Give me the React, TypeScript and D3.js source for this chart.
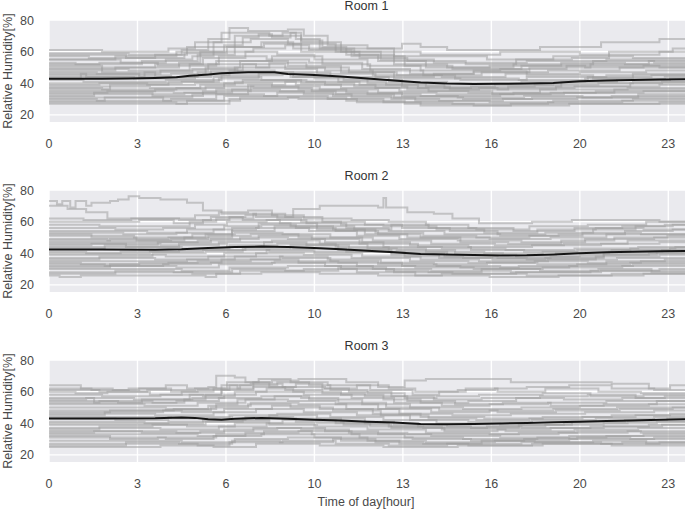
import React from 'react';
import * as d3 from 'd3';

// hours at which the x ticks sit (every 40 samples of 5 min) and their labels
const tickHours = [0, 10 / 3, 20 / 3, 10, 40 / 3, 50 / 3, 20, 70 / 3];
const tickLabels = ['0', '3', '6', '10', '13', '16', '20', '23'];
const yTicks = [20, 40, 60, 80];
const roomNames = ['Room 1', 'Room 2', 'Room 3'];

// each series: [hour, RH] change points, held until the next one (step-after)
const room1Series = [
  [[0,61],[2,60],[4.5,62],[5.5,66],[6.5,72],[8.3,70],[9.5,66],[11,60],[14,58],[17,60],[20,58],[23,60]],
  [[0,59],[3,58],[5,61],[6,68],[6.8,75],[7.5,73],[9,74],[9.6,70],[10.5,64],[12,62],[13.3,65],[14,63],[15,61],[18.5,63],[20.8,66],[23,68]],
  [[0,57],[1.5,56],[4,58],[5.2,63],[7,70],[8.8,72],[9.3,68],[10.2,62],[13,57],[16.5,55],[19,57],[22,56]],
  [[0,55],[2.5,57],[4.8,60],[6.2,66],[7.6,68],[9,65],[10.8,60],[12.5,55],[14.5,53],[18,54],[21,55]],
  [[0,53],[1,52],[3.5,54],[5.6,58],[7,63],[8,66],[9.2,62],[11.5,58],[13,52],[15,50],[17.5,52],[20.5,54],[22.8,53]],
  [[0,51],[2,50],[4,52],[5.8,56],[7.4,60],[8.6,58],[10,55],[12,51],[14,48],[17,49],[19.5,51],[23,50]],
  [[0,49],[3,48],[5.3,52],[6.4,57],[8.2,55],[9.8,53],[11.8,49],[13.6,46],[16,47],[18.8,48],[21.5,50]],
  [[0,47],[1.8,46],[4.2,48],[6,52],[7.8,50],[10.4,48],[12.2,45],[14.8,44],[17.2,46],[20,47],[22.5,48]],
  [[0,45],[2.2,45],[4.6,46],[5.9,50],[7.2,54],[9,51],[11,47],[13,43],[15.5,42],[18,44],[21,45]],
  [[0,44],[3.2,43],[5.5,45],[6.8,48],[8.5,47],[10.6,44],[12.8,41],[15,40],[17.8,41],[20.2,43],[23.2,44]],
  [[0,42],[1.3,41],[4.4,42],[6.5,45],[8.8,46],[10,43],[12,40],[14.2,38],[16.8,39],[19,40],[22,41]],
  [[0,40],[2.6,40],[5,41],[6.2,44],[8,42],[9.5,40],[11.5,38],[13.5,36],[16.2,37],[19.8,38],[23,39]],
  [[0,38],[3.8,37],[5.7,39],[7,41],[9.3,39],[11,37],[13.2,35],[15.8,34],[18.5,36],[21.8,37]],
  [[0,37],[2,36],[4.8,37],[6.6,40],[8.4,38],[10.2,36],[12.4,34],[14.6,33],[17.5,34],[20.6,35]],
  [[0,35],[1.5,35],[4,36],[5.9,38],[7.7,37],[9.9,35],[12,33],[14,32],[17,33],[19.4,34],[22.4,35]],
  [[0,33],[2.8,33],[5.1,34],[6.9,36],[8.7,35],[10.8,33],[13,31],[15.6,30],[18.2,31],[21.2,32]],
  [[0,31],[3.5,31],[5.4,33],[7.5,35],[9.6,33],[11.4,31],[13.8,29],[16.6,28],[19,29],[22,30]],
  [[0,30],[1.8,29],[4.6,30],[6.3,33],[8.1,32],[10.5,30],[12.6,28],[15.2,27],[18.8,28],[21.6,29]],
  [[0,28],[2.4,28],[4.8,27],[6.8,30],[9,31],[11.2,29],[13.4,27],[16,26],[19.6,27],[23,28]],
  [[0,27],[3,27],[5.2,29],[7.2,31],[9.4,30],[11.6,28],[14,26],[17.4,27],[20.8,27]],
  [[0,50],[2,47],[4,44],[6.1,48],[7.3,52],[8.9,49],[10.1,46],[12.3,44],[14.5,46],[16,48],[18,45],[20.5,43],[22,46]],
  [[0,43],[1.2,46],[3.4,44],[5.6,47],[7,50],[8.3,53],[9.7,50],[11.3,47],[13.1,45],[15.3,43],[17.7,42],[20.3,44],[22.7,45]],
  [[0,36],[2.3,39],[4.5,41],[6.4,43],[7.9,46],[9.1,44],[10.9,41],[12.7,39],[14.9,37],[16.9,36],[19.1,38],[21.9,40]],
  [[0,32],[1.7,34],[3.9,32],[5.8,35],[7.6,38],[9.4,36],[11.2,34],[13.3,32],[15.4,31],[17.9,32],[20.1,31],[22.2,33]],
  [[0,55],[2.7,53],[4.1,51],[6.3,54],[8.4,57],[10.3,52],[12.1,48],[14.1,45],[16.3,47],[18.1,50],[20.4,52],[22.6,54]],
  [[0,46],[1.4,44],[3.6,47],[5.4,49],[7.1,47],[9.2,44],[11.1,42],[13.3,38],[15.1,36],[17.3,38],[19.3,41],[21.4,42],[23.4,43]],
  [[0,29],[2.1,31],[4.3,29],[6.6,32],[8.6,34],[10.7,32],[12.9,30],[14.7,29],[17.1,30],[19.9,31],[22.8,31]],
  [[0,58],[2.9,56],[5.1,59],[6.7,63],[8.1,65],[9.5,60],[11.7,56],[13.5,54],[15.7,52],[17.6,55],[19.7,56],[21.1,60],[23.5,62]],
  [[0,48],[2.5,50],[4.9,53],[5.7,60],[6.6,64],[7.3,69],[7.9,71],[8.4,69],[9.1,72],[9.5,67],[10.3,63],[11.2,58],[12.4,54],[14.2,50],[16.6,51],[19.3,53],[21.7,52]],
  [[0,52],[1.9,53],[4.4,55],[5.4,57],[6.2,60],[7.7,62],[8.9,64],[9.8,61],[11.4,57],[13.4,51],[15.2,49],[17.8,51],[20.2,50],[22.4,51]],
  [[0,34],[2.2,35],[4.7,34],[6.3,36],[7.5,39],[8.9,41],[10.4,39],[12.3,37],[14.3,35],[16.7,33],[18.9,34],[21.3,36]],
  [[0,39],[1.9,40],[3.7,39],[5.5,40],[7.3,42],[9.7,41],[11.7,39],[13.9,37],[15.9,38],[18.3,39],[20.7,40],[23.1,41]],
];

const room2Series = [
  [[0,73],[0.3,71],[0.5,73],[0.8,69],[1,73],[1.4,70],[1.6,72],[2.3,73],[2.6,74],[3,76],[3.4,75],[4.2,74],[5.2,72],[5.8,67],[6.5,65],[7.8,63],[9.2,68],[10.2,70],[12.4,69],[12.6,75],[12.7,69],[13.5,66],[14.5,65],[15.2,62],[16.2,59],[18.2,60],[19.7,61],[23,60]],
  [[0,70],[0.7,68],[1.4,66],[2.2,62],[4,62],[5.5,64],[6.4,66],[7.5,67],[8.4,64],[9.6,62],[11.4,61],[12.8,60],[14.2,58],[15.8,56],[17.5,54],[19.8,56],[21.6,57],[23.2,58]],
  [[0,60],[1.5,60],[3.4,61],[4.7,59],[5.8,61],[6.8,63],[7.4,64],[8.6,62],[9.5,60],[11,58],[12.6,57],[14.6,55],[16.4,53],[18.4,55],[20.6,56],[22.4,55]],
  [[0,56],[2.5,55],[4.3,56],[5.5,58],[6.7,60],[8.2,61],[9.7,59],[11.2,56],[12.8,54],[14.9,52],[17,51],[19.2,52],[21.7,54],[23.5,55]],
  [[0,54],[1.8,54],[3.7,53],[5.2,55],[6.6,57],[8,58],[9.3,56],[10.8,54],[12.4,52],[14,50],[16.6,49],[18.9,50],[21,52]],
  [[0,53],[2.8,52],[4.8,53],[6.2,55],[7.8,56],[9.8,54],[11.6,51],[13.2,49],[15.4,48],[17.8,47],[20.2,49],[22.8,50]],
  [[0,51],[1.2,51],[3.2,50],[5.4,52],[7,53],[8.8,52],[10.6,50],[12.2,48],[14.4,46],[16.8,45],[19.4,46],[21.8,48]],
  [[0,49],[2.2,48],[4.6,49],[6,51],[7.6,52],[9.4,50],[11.8,47],[13.6,45],[15.8,44],[18.2,45],[20.8,46],[23,47]],
  [[0,47],[3.6,47],[5.6,48],[7.2,50],[9,49],[10.4,47],[12.6,44],[14.8,43],[17.2,42],[19.8,43],[22.2,44]],
  [[0,45],[1.6,46],[4.2,45],[6.4,47],[8.4,48],[10.2,46],[12,43],[14.2,41],[16.4,40],[18.6,41],[21.2,42],[23.4,43]],
  [[0,44],[2.6,44],[5,43],[6.8,45],[8.6,46],[10.8,44],[12.8,41],[15,39],[17.6,38],[20,39],[22.6,40]],
  [[0,41],[1.4,40],[3.8,41],[5.8,42],[7.4,44],[9.2,43],[11.2,41],[13.4,38],[15.6,37],[18,36],[20.6,38],[23,39]],
  [[0,39],[2.4,39],[4.4,38],[6.6,40],[8.2,42],[10,40],[11.8,38],[14,36],[16.2,35],[18.8,36],[21.4,37]],
  [[0,37],[1.8,37],[4,36],[6,38],[7.8,40],[9.6,39],[11.4,37],[13.6,35],[15.8,34],[18.4,33],[21,35],[23.2,36]],
  [[0,35],[3,35],[5.2,36],[7,38],[8.8,37],[10.6,35],[12.4,33],[14.6,32],[17,31],[19.6,32],[22,33]],
  [[0,34],[1.2,33],[3.4,34],[5.6,35],[7.6,36],[9.4,34],[11.6,32],[13.8,31],[16,30],[18.6,31],[21.6,32]],
  [[0,32],[2,32],[4.8,31],[6.4,33],[8.4,34],[10.4,32],[12.2,30],[14.4,29],[17.4,28],[20.4,29],[23,30]],
  [[0,30],[2.8,30],[5,29],[6.8,31],[9,32],[11,30],[13,28],[15.2,27],[18,26],[21.2,27]],
  [[0,28],[3.4,28],[5.4,27],[7.2,29],[9.6,30],[11.6,28],[13.8,26],[16.6,25],[19.2,26],[22.4,27]],
  [[0,26],[0.4,25],[1.2,26],[4.2,26],[5.9,25],[6.3,27],[8,28],[10.2,27],[12.4,26],[14.8,27],[17.6,28],[20.8,29]],
  [[0,52],[1.6,50],[3.3,48],[5.1,50],[6.9,54],[8.5,57],[10.1,55],[11.9,52],[13.5,50],[15.5,47],[17.3,46],[19.3,48],[21.3,50],[23.3,51]],
  [[0,43],[2.1,45],[4.1,47],[6.1,49],[7.9,51],[9.9,49],[11.7,46],[13.9,44],[15.9,42],[17.9,41],[19.9,42],[21.9,43],[23.6,44]],
  [[0,36],[1.9,38],[3.9,40],[5.9,41],[7.3,43],[9.1,45],[10.9,42],[12.9,40],[14.9,38],[16.9,37],[18.9,38],[20.9,40],[22.9,41]],
  [[0,31],[2.3,33],[4.5,34],[6.5,36],[8.7,38],[10.5,36],[12.5,34],[14.5,33],[16.5,34],[18.3,35],[20.3,34],[22.3,35]],
  [[0,58],[1.9,57],[3.9,57],[5.3,60],[6.3,62],[7.7,65],[8.9,63],[10.3,60],[11.9,58],[13.3,56],[15.1,54],[16.9,52],[18.7,53],[20.5,55],[22.1,57],[23.5,58]],
  [[0,46],[2.9,44],[4.9,46],[6.7,44],[8.1,47],[9.7,45],[11.3,43],[13.1,42],[15.3,40],[17.1,39],[19.1,40],[21.1,41],[23.1,42]],
  [[0,27],[2.5,29],[4.7,28],[6.9,30],[8.9,29],[10.9,31],[12.7,29],[14.3,28],[16.3,30],[18.5,29],[20.7,30],[22.7,28]],
  [[0,48],[2.3,49],[4.5,50],[5.9,52],[6.9,56],[7.9,59],[9.1,57],[10.7,55],[12.3,53],[14.1,51],[16.1,50],[18.1,51],[20.1,53],[22.3,52]],
  [[0,40],[2.7,41],[4.9,42],[6.7,42],[8.3,41],[10.5,41],[12.9,39],[14.7,37],[16.7,36],[18.7,37],[20.9,39],[22.9,40]],
  [[0,33],[2.1,32],[4.3,33],[6.1,34],[8.5,35],[10.9,34],[13.3,32],[15.5,31],[17.7,32],[19.9,33],[21.9,34]],
  [[0,62],[1.3,61],[3.1,62],[4.9,61],[6.1,63],[7.3,61],[8.7,59],[10.1,57],[11.5,55],[12.9,58],[14.3,56],[16.1,55],[18.1,57],[20.3,58],[22.5,60]],
];

const room3Series = [
  [[0,64],[1.2,62],[2.4,61],[3.4,62],[4.4,64],[5.2,62],[6,63],[6.3,70],[7,69],[7.4,66],[8.4,67],[9.4,68],[11.2,66],[12.4,63],[13.4,67],[14.2,68],[17.4,66],[21.2,65],[22.6,62],[23.4,64]],
  [[0,62],[1.6,61],[3,62],[4.6,60],[5.6,61],[6.8,64],[7.6,65],[8.8,63],[10.4,62],[11.6,64],[12.8,62],[13.8,60],[15.4,61],[16.8,62],[18,63],[19.6,64],[21.2,62],[22.8,61]],
  [[0,60],[1,59],[2.2,60],[3.8,58],[5,60],[6.2,62],[7.2,64],[8.6,66],[9.8,64],[10.6,61],[12,59],[13.4,56],[14.6,57],[16.2,58],[18.6,59],[20.4,57],[22.4,58]],
  [[0,58],[2,57],[4.2,58],[5.8,57],[7,60],[8.2,62],[9.2,60],[11,58],[12.6,55],[14,53],[15.8,54],[17.6,56],[19.4,55],[21.6,56],[23.2,57]],
  [[0,55],[1.4,56],[3.2,55],[5.4,56],[6.6,58],[7.8,60],[9.6,58],[11.4,56],[13,53],[14.8,51],[16.6,52],[18.8,53],[21,54]],
  [[0,54],[2.6,53],[4.8,54],[6.4,56],[8,57],[9.8,55],[11.8,52],[13.6,50],[15.6,49],[17.8,50],[20,51],[22.6,52]],
  [[0,52],[1.8,52],[3.6,51],[5.6,53],[7.4,55],[9,54],[10.8,52],[12.4,49],[14.4,47],[16.6,48],[19,49],[21.4,50]],
  [[0,50],[2.4,50],[4.4,49],[6,51],[7.6,53],[9.4,52],[11.2,49],[13.2,46],[15.2,45],[17.4,46],[20.2,47],[22.8,48]],
  [[0,48],[3,48],[5,47],[6.6,49],[8.4,51],[10.2,49],[12.2,46],[14,44],[16.4,43],[18.6,44],[21.2,45],[23.4,46]],
  [[0,46],[1.6,46],[4,45],[6.2,47],[7.8,49],[9.6,47],[11.6,45],[13.6,42],[15.8,41],[18.2,42],[20.6,43],[22.8,44]],
  [[0,44],[2.2,44],[4.6,43],[6.8,45],[8.6,46],[10.6,44],[12.6,42],[14.6,40],[17,39],[19.4,40],[21.8,41]],
  [[0,41],[1.2,41],[3.6,40],[5.8,42],[7.4,44],[9.2,43],[11,41],[13,39],[15,38],[17.8,37],[20.4,38],[22.6,39]],
  [[0,39],[2.8,39],[5.2,38],[7,40],[8.8,42],[10.8,40],[12.8,38],[14.8,36],[17.2,35],[19.8,36],[22.2,37]],
  [[0,37],[1.6,37],[4.2,36],[6.4,38],[8.2,40],[10,38],[12,36],[14.2,34],[16.6,33],[19.2,34],[21.8,35]],
  [[0,35],[2.4,35],[4.8,34],[6.6,36],[8.6,37],[10.4,35],[12.4,33],[14.4,32],[17,31],[19.6,32],[22.4,33]],
  [[0,33],[3.2,33],[5.6,32],[7.4,34],[9.4,35],[11.4,33],[13.4,31],[15.6,30],[18.4,31],[21,32]],
  [[0,31],[1.8,31],[4.4,30],[6.2,32],[8,33],[10,31],[12,29],[14.2,28],[16.8,29],[19.6,30],[22.8,31]],
  [[0,29],[2.6,29],[5,28],[7,30],[9,31],[11,29],[13.2,27],[15.8,26],[18.6,27],[21.6,28]],
  [[0,27],[3.6,27],[5.6,26],[6.8,28],[8.8,29],[10.8,27],[12.8,26],[15,27],[17.8,28],[20.8,27],[23,28]],
  [[0,25],[2,25],[4.2,26],[6.2,25],[7.8,27],[10.2,26],[12.6,25],[15.4,26],[18.2,27],[21.2,26]],
  [[0,56],[1.7,53],[3.5,55],[5.3,58],[6.5,61],[7.7,63],[8.9,61],[10.3,59],[11.9,57],[13.5,54],[15.3,52],[17.1,53],[18.9,51],[20.9,52],[22.9,54]],
  [[0,45],[2.1,47],[4.3,48],[6.1,50],[7.5,52],[9.1,50],[10.7,48],[12.5,45],[14.3,43],[16.1,42],[18.1,43],[20.1,44],[22.1,45]],
  [[0,36],[1.9,38],[3.9,39],[5.9,41],[7.3,43],[9.3,41],[11.1,39],[12.9,37],[14.9,35],[16.9,36],[18.9,37],[20.9,38],[23.1,39]],
  [[0,32],[2.3,30],[4.1,31],[6.3,33],[8.1,35],[9.9,33],[11.7,31],[13.7,30],[15.9,29],[17.9,30],[19.9,31],[21.9,30]],
  [[0,61],[1.9,60],[3.7,61],[5.5,62],[6.7,66],[7.9,68],[9.1,66],[10.5,64],[12.1,61],[13.7,58],[14.7,60],[15.7,62],[16.9,60],[18.7,62],[20.7,60],[22.3,59]],
  [[0,43],[2.5,42],[4.5,44],[6.9,42],[8.3,45],[10.1,43],[11.9,40],[13.9,38],[15.9,37],[17.7,39],[19.7,41],[21.7,42],[23.3,43]],
  [[0,26],[2.9,28],[4.9,27],[6.9,29],[8.7,28],[10.7,30],[12.3,28],[14.1,27],[16.3,29],[18.3,28],[20.5,29],[22.5,27]],
  [[0,53],[1.9,54],[3.9,53],[5.1,55],[5.9,58],[6.5,64],[7.1,62],[7.7,66],[8.3,63],[9.3,65],[10.3,62],[11.3,60],[12.9,57],[14.5,55],[16.3,56],[18.5,57],[20.3,58],[22.1,56]],
  [[0,47],[2.3,48],[4.7,49],[6.3,52],[7.1,55],[8.5,57],[9.5,56],[10.9,53],[12.7,50],[14.7,48],[16.9,47],[19.1,48],[21.5,49],[23.5,50]],
  [[0,40],[2.1,40],[4.5,41],[6.5,41],[8.3,39],[10.1,40],[12.1,38],[14.1,37],[16.5,38],[18.7,39],[20.9,40],[22.9,41]],
  [[0,34],[1.7,35],[3.5,34],[5.7,35],[7.7,37],[9.5,36],[11.3,34],[13.5,33],[15.7,33],[17.7,34],[19.9,35],[22.3,34]],
];

// mean curves (black)
const room1Mean = [[0,42.9],[1,42.8],[2,42.9],[3,43],[4,43.3],[4.8,43.8],[5.3,44.8],[5.6,45],[6,45.5],[6.5,46.3],[7.5,47],[8.5,47],[9,45.8],[10,45.2],[11,44.2],[12,43],[13,41.8],[14,40.5],[15,39.8],[16,39.6],[17,39.7],[18,39.8],[19,40.2],[20,41.2],[21,41.8],[22,42.1],[23,42.3],[24,42.5]];
const room2Mean = [[0,42.3],[2,42.4],[4,42.2],[5,42.5],[6,43.3],[7,44],[8,44.2],[9,44],[10,43.3],[11,42.6],[12,41.6],[13,40.6],[14,39.6],[15,39.2],[16,38.9],[17,38.6],[18,38.7],[19,39.2],[20,40],[21,40.6],[22,41],[23,41.3],[24,41.5]];
const room3Mean = [[0,43],[2,43],[4,43.1],[5,43.6],[5.5,43.4],[6,42.5],[6.5,42.2],[7,42.8],[8,43.4],[9,42.8],[10,42.2],[11,41.8],[12,41],[13,40.4],[14,39.5],[15,39.3],[16,39.6],[17,39.9],[18,40.2],[19,40.6],[20,41],[21,41.4],[22,41.8],[23,42.2],[24,42.5]];

const allSeries = [room1Series, room2Series, room3Series];
const allMeans = [room1Mean, room2Mean, room3Mean];

const W = 685, H = 509;
const left = 49, right = 686;
const panelTops = [20, 190, 360];
const panelH = 102;
const font = 'Liberation Sans, Arial, sans-serif';

function Panel({ idx, top }: { idx: number; top: number }) {
  const x = d3.scaleLinear().domain([0, 24]).range([left, right]);
  const y = d3.scaleLinear().domain([15.5, 80]).range([top + panelH, top]);
  const step = d3.line<number[]>().x((d) => x(d[0])).y((d) => y(d[1])).curve(d3.curveStepAfter);
  const smooth = d3.line<number[]>().x((d) => x(d[0])).y((d) => y(d[1]));
  const clipId = `clip${idx}`;

  return (
    <g>
      <clipPath id={clipId}>
        <rect x={left} y={top} width={right - left} height={panelH} />
      </clipPath>
      <rect x={left} y={top} width={right - left} height={panelH} fill="#eaeaee" />
      {tickHours.map((t, i) => (
        <line key={`gx${i}`} x1={x(t)} x2={x(t)} y1={top} y2={top + panelH} stroke="#fff" strokeWidth={1.4} />
      ))}
      {yTicks.map((v) => (
        <line key={`gy${v}`} x1={left} x2={right} y1={y(v)} y2={y(v)} stroke="#fff" strokeWidth={1.4} />
      ))}
      <g clipPath={`url(#${clipId})`}>
        {allSeries[idx].map((s, i) => {
          const pts = [...s, [24, s[s.length - 1][1]]];
          return <path key={`s${i}`} d={step(pts) || ''} fill="none" stroke="#999" strokeOpacity={0.5} strokeWidth={2} />;
        })}
        <path d={smooth(allMeans[idx]) || ''} fill="none" stroke="#151515" strokeWidth={2} />
      </g>
      {yTicks.map((v) => (
        <text key={`ty${v}`} x={34} y={y(v) + 4.5} textAnchor="end" fontSize={12.5} fill="#4a4a4a" fontFamily={font}>{v}</text>
      ))}
      {tickHours.map((t, i) => (
        <text key={`tx${i}`} x={x(t)} y={top + panelH + 26} textAnchor="middle" fontSize={12.5} fill="#4a4a4a" fontFamily={font}>{tickLabels[i]}</text>
      ))}
      <text x={(left + right) / 2 - 1} y={top - 10} textAnchor="middle" fontSize={12.5} fill="#333" fontFamily={font}>{roomNames[idx]}</text>
      <text transform={`translate(12, ${top + panelH / 2}) rotate(-90)`} textAnchor="middle" fontSize={12.5} fill="#4a4a4a" fontFamily={font}>Relative Humidity[%]</text>
    </g>
  );
}

export default function App() {
  return (
    <svg width={W} height={H} style={{ position: 'absolute', left: 0, top: 0 }} xmlns="http://www.w3.org/2000/svg">
      <rect width={W} height={H} fill="#fff" />
      {panelTops.map((t, i) => <Panel key={i} idx={i} top={t} />)}
      <text x={366} y={506} textAnchor="middle" fontSize={12.5} fill="#4a4a4a" fontFamily={font}>Time of day[hour]</text>
    </svg>
  );
}
